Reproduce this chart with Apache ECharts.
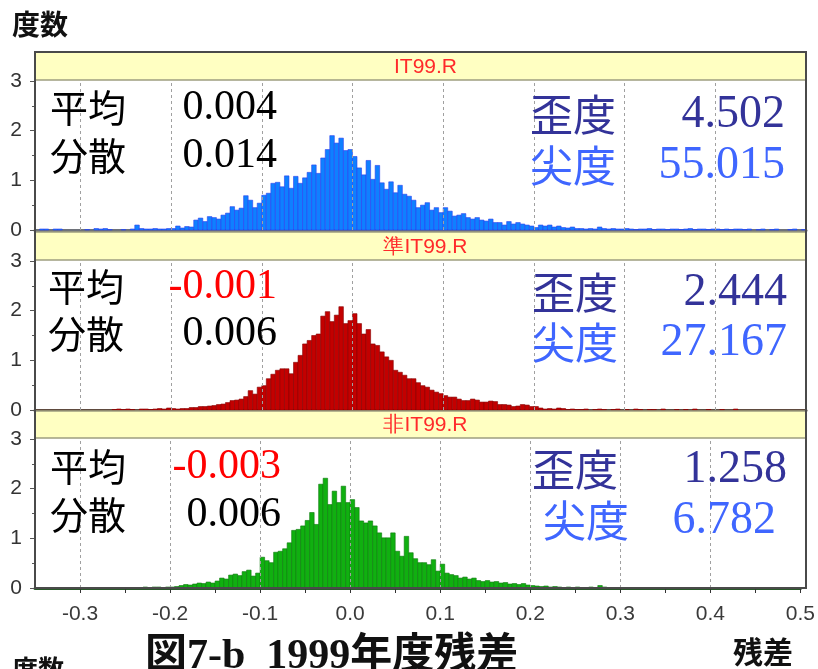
<!DOCTYPE html>
<html>
<head>
<meta charset="utf-8">
<script src="https://cdn.jsdelivr.net/npm/echarts@6/dist/echarts.min.js"></script>
<style>
  html, body { margin: 0; padding: 0; background: #ffffff; }
  #chart { width: 818px; height: 669px; }
</style>
</head>
<body>
<div id="chart"></div>
<script>
// Histogram bins: left edge of the first bin and common bin width (residual units)
const BIN_START = -0.35;
const BIN_WIDTH = 0.005;

const panelNames = ['IT99.R', '準IT99.R', '非IT99.R'];

// Frequency (density) per bin, 170 bins from -0.35 to 0.50
const countsIT = [
  0, 0.02, 0.02, 0, 0.02, 0.02, 0, 0, 0, 0,
  0, 0.01, 0, 0.03, 0.02, 0.03, 0.01, 0, 0, 0.01,
  0, 0.02, 0.10, 0.03, 0.02, 0.02, 0.03, 0.02, 0.02, 0.03,
  0.03, 0.08, 0.04, 0.07, 0.06, 0.20, 0.24, 0.17, 0.27, 0.25,
  0.22, 0.30, 0.34, 0.47, 0.40, 0.44, 0.69, 0.60, 0.45, 0.54,
  0.70, 0.74, 0.94, 0.96, 0.87, 1.09, 0.84, 1.08, 0.94, 1.05,
  1.16, 1.31, 1.14, 1.45, 1.62, 1.90, 1.75, 1.85, 1.60, 1.62,
  1.48, 1.25, 1.11, 1.40, 1.02, 1.30, 0.95, 0.82, 0.97, 0.75,
  0.90, 0.72, 0.68, 0.60, 0.45, 0.50, 0.55, 0.40, 0.45, 0.35,
  0.45, 0.38, 0.28, 0.30, 0.33, 0.25, 0.22, 0.25, 0.20, 0.18,
  0.22, 0.15, 0.15, 0.10, 0.17, 0.12, 0.15, 0.12, 0.10, 0.08,
  0.05, 0.10, 0.08, 0.10, 0.06, 0.08, 0.05, 0.04, 0.06, 0.03,
  0.03, 0.02, 0.03, 0.02, 0.06, 0.03, 0.02, 0.03, 0.02, 0.02,
  0.03, 0.02, 0.01, 0.02, 0.02, 0.03, 0.01, 0.02, 0.02, 0.01,
  0.02, 0.02, 0.01, 0.02, 0.03, 0.01, 0.02, 0.02, 0.01, 0.02,
  0.02, 0.01, 0.02, 0.01, 0.02, 0.02, 0.01, 0.02, 0, 0.01,
  0.02, 0, 0.01, 0.02, 0, 0, 0.01, 0.02, 0, 0.01
];
const countsSemi = [
  0, 0, 0, 0, 0, 0, 0, 0, 0, 0,
  0, 0, 0, 0, 0, 0, 0, 0.01, 0.02, 0.01,
  0.02, 0.01, 0, 0.02, 0.02, 0.01, 0.02, 0.03, 0.02, 0.04,
  0.03, 0.02, 0.03, 0.03, 0.05, 0.05, 0.07, 0.07, 0.08, 0.09,
  0.11, 0.12, 0.15, 0.19, 0.20, 0.22, 0.27, 0.39, 0.32, 0.46,
  0.49, 0.63, 0.72, 0.80, 0.83, 0.83, 0.73, 0.96, 1.10, 1.33,
  1.40, 1.50, 1.53, 1.89, 1.98, 1.78, 1.91, 2.08, 1.74, 1.80,
  1.94, 1.74, 1.53, 1.62, 1.33, 1.30, 1.17, 1.07, 1.00, 0.80,
  0.76, 0.70, 0.63, 0.63, 0.55, 0.49, 0.46, 0.40, 0.36, 0.33,
  0.29, 0.26, 0.26, 0.22, 0.19, 0.19, 0.22, 0.20, 0.16, 0.16,
  0.18, 0.17, 0.11, 0.11, 0.10, 0.07, 0.08, 0.11, 0.10, 0.07,
  0.07, 0.04, 0.02, 0.03, 0.02, 0.04, 0.03, 0.01, 0.02, 0.01,
  0.01, 0.02, 0, 0.01, 0.02, 0.01, 0, 0.01, 0.02, 0,
  0.01, 0, 0.02, 0.01, 0, 0.01, 0.01, 0, 0.02, 0,
  0, 0.01, 0, 0.01, 0, 0.02, 0, 0, 0.01, 0,
  0, 0.01, 0, 0, 0.02, 0, 0, 0, 0, 0,
  0, 0, 0, 0, 0, 0, 0, 0, 0, 0
];
const countsNon = [
  0, 0, 0, 0, 0, 0, 0, 0, 0, 0,
  0, 0, 0, 0, 0, 0, 0, 0, 0, 0,
  0, 0, 0, 0.01, 0.02, 0.01, 0.02, 0.02, 0.01, 0.02,
  0.02, 0.03, 0.05, 0.07, 0.06, 0.08, 0.10, 0.09, 0.12, 0.10,
  0.14, 0.20, 0.18, 0.26, 0.28, 0.25, 0.33, 0.36, 0.24, 0.30,
  0.62, 0.55, 0.51, 0.72, 0.74, 0.79, 0.91, 1.16, 1.18, 1.25,
  1.36, 1.52, 1.28, 2.09, 2.21, 1.68, 1.95, 1.72, 2.05, 1.72,
  1.78, 1.62, 1.35, 1.31, 1.35, 1.25, 1.11, 1.01, 1.01, 1.11,
  0.74, 0.64, 1.04, 0.71, 0.59, 0.51, 0.51, 0.47, 0.57, 0.34,
  0.48, 0.30, 0.27, 0.25, 0.20, 0.22, 0.18, 0.20, 0.15, 0.13,
  0.15, 0.12, 0.13, 0.10, 0.11, 0.08, 0.09, 0.07, 0.09, 0.06,
  0.05, 0.04, 0.03, 0.04, 0.02, 0.03, 0.02, 0.01, 0.02, 0.01,
  0.02, 0.01, 0.01, 0.02, 0.01, 0.05, 0.02, 0.01, 0.01, 0.01,
  0, 0.01, 0, 0, 0, 0, 0, 0, 0, 0,
  0, 0, 0, 0, 0, 0, 0, 0, 0, 0,
  0, 0, 0, 0, 0, 0, 0, 0, 0, 0,
  0, 0, 0, 0, 0, 0, 0, 0, 0, 0
];

// Dashed reference lines across every panel
const gridLineValues = [-0.3, -0.2, -0.1, 0.0, 0.1, 0.2, 0.3, 0.4];

// Summary statistics printed in each panel
const meanLabels = ['0.004', '-0.001', '-0.003'];
const varianceLabels = ['0.014', '0.006', '0.006'];
const skewLabels = ['4.502', '2.444', '1.258'];
const kurtosisLabels = ['55.015', '27.167', '6.782'];

// ---- layout ----
const PLOT_LEFT = 35;
const PLOT_WIDTH = 771;
const PLOT_HEIGHT = 149;
const panelTops = [81, 261, 439];
const stripTops = [52, 232, 411];
const stripHeights = [28, 28, 27];

const palettes = [
  { fill: '#0f80ff', edge: '#2b3ff0', base: '#6e727a' },
  { fill: '#c30000', edge: '#870000', base: '#5e4a3e' },
  { fill: '#10b010', edge: '#0b780b', base: '#2a5a2a' }
];
const seriesCounts = [countsIT, countsSemi, countsNon];

// statistic text placement per panel (relative to the panel top)
const statLayout = [
  { labelX: 50, leftValX: 277, rightLabelX: 530, kurtLabelX: 530, skewValX: 785, kurtValX: 785, r1: 27, r2: 75, s1: 34, s2: 85 },
  { labelX: 48, leftValX: 277, rightLabelX: 532, kurtLabelX: 532, skewValX: 787, kurtValX: 787, r1: 26, r2: 73, s1: 32, s2: 82 },
  { labelX: 50, leftValX: 281, rightLabelX: 532, kurtLabelX: 543, skewValX: 787, kurtValX: 776, r1: 28, r2: 76, s1: 31, s2: 82 }
];

const CJK = "'Noto Sans CJK JP', 'Noto Sans CJK SC', sans-serif";
const SERIF = "'Liberation Serif', 'Times New Roman', serif";
const SANS = "'Liberation Sans', Arial, sans-serif";

function binRenderer(colors) {
  return function (params, api) {
    const left = api.value(0);
    const h = api.value(1);
    if (!h) return null;
    const topLeft = api.coord([left, h]);
    const bottomRight = api.coord([left + BIN_WIDTH, 0]);
    return {
      type: 'rect',
      shape: {
        x: topLeft[0],
        y: topLeft[1],
        width: bottomRight[0] - topLeft[0],
        height: bottomRight[1] - topLeft[1]
      },
      style: { fill: colors.fill, stroke: colors.edge, lineWidth: 0.6 }
    };
  };
}

// only the tenths get a label; the 0.05 ticks stay unlabeled
function tickText(v) {
  const t = Math.round(v * 10);
  if (Math.abs(v * 10 - t) > 1e-6) return '';
  return (t / 10).toFixed(1);
}

const grids = [], xAxes = [], yAxes = [], series = [], graphics = [];

for (let i = 0; i < 3; i++) {
  const pal = palettes[i];
  const isBottom = i === 2;
  grids.push({ left: PLOT_LEFT, top: panelTops[i], width: PLOT_WIDTH, height: PLOT_HEIGHT });
  xAxes.push({
    gridIndex: i, type: 'value', min: -0.35, max: 0.5, interval: 0.05,
    axisLine: { show: true, onZero: true, lineStyle: { color: pal.base, width: 3 } },
    axisTick: { show: isBottom, length: 5, lineStyle: { color: '#333' } },
    axisLabel: { show: isBottom, formatter: tickText, fontSize: 21, color: '#3a3a3a', margin: 16, fontFamily: SANS, showMinLabel: false },
    splitLine: { show: false }
  });
  yAxes.push({
    gridIndex: i, type: 'value', min: 0, max: 3, interval: 1,
    axisLine: { show: true, onZero: false, lineStyle: { color: '#4a4a4a', width: 2 } },
    axisTick: { show: true, length: 5, lineStyle: { color: '#555' } },
    minorTick: { show: true, splitNumber: 2, length: 3, lineStyle: { color: '#555' } },
    axisLabel: { fontSize: 21, color: '#333', margin: 13, fontFamily: SANS },
    splitLine: { show: false }
  });
  // dashed vertical guides, drawn beneath the bars
  series.push({
    type: 'line',
    xAxisIndex: i,
    yAxisIndex: i,
    data: [],
    z: 1,
    silent: true,
    markLine: {
      silent: true,
      symbol: 'none',
      label: { show: false },
      lineStyle: { color: '#a0a0a0', type: [3, 3], width: 1 },
      data: gridLineValues.map(v => ({ xAxis: v }))
    }
  });
  series.push({
    type: 'custom',
    name: panelNames[i],
    xAxisIndex: i,
    yAxisIndex: i,
    renderItem: binRenderer(pal),
    encode: { x: 0, y: 1 },
    data: seriesCounts[i].map((v, k) => [BIN_START + k * BIN_WIDTH, v]),
    z: 3
  });

  // panel header strip
  graphics.push({
    type: 'rect', z: 10,
    shape: { x: PLOT_LEFT, y: stripTops[i], width: PLOT_WIDTH, height: stripHeights[i] },
    style: { fill: '#ffffc2', stroke: '#9e9e80', lineWidth: 1.5 }
  });
  graphics.push({
    type: 'text', z: 11,
    x: PLOT_LEFT + PLOT_WIDTH / 2 + 5, y: stripTops[i] + stripHeights[i] / 2 + 1,
    style: { text: panelNames[i], fill: '#ff2a2a', font: '21px ' + SANS, align: 'center', verticalAlign: 'middle' }
  });

  // statistics
  const L = statLayout[i];
  const top = panelTops[i];
  const meanColor = meanLabels[i].startsWith('-') ? '#ff0000' : '#000000';
  graphics.push(
    { type: 'text', z: 12, x: L.labelX, y: top + L.r1, style: { text: '平均', fill: '#000', font: '38px ' + CJK, align: 'left', verticalAlign: 'middle' } },
    { type: 'text', z: 12, x: L.leftValX, y: top + L.r1, style: { text: meanLabels[i], fill: meanColor, font: '42px ' + SERIF, align: 'right', verticalAlign: 'middle' } },
    { type: 'text', z: 12, x: L.labelX, y: top + L.r2, style: { text: '分散', fill: '#000', font: '38px ' + CJK, align: 'left', verticalAlign: 'middle' } },
    { type: 'text', z: 12, x: L.leftValX, y: top + L.r2, style: { text: varianceLabels[i], fill: '#000', font: '42px ' + SERIF, align: 'right', verticalAlign: 'middle' } },
    { type: 'text', z: 12, x: L.rightLabelX, y: top + L.s1, style: { text: '歪度', fill: '#333399', font: '43px ' + CJK, align: 'left', verticalAlign: 'middle' } },
    { type: 'text', z: 12, x: L.skewValX, y: top + L.s1, style: { text: skewLabels[i], fill: '#333399', font: '46px ' + SERIF, align: 'right', verticalAlign: 'middle' } },
    { type: 'text', z: 12, x: L.kurtLabelX, y: top + L.s2, style: { text: '尖度', fill: '#3f66ff', font: '43px ' + CJK, align: 'left', verticalAlign: 'middle' } },
    { type: 'text', z: 12, x: L.kurtValX, y: top + L.s2, style: { text: kurtosisLabels[i], fill: '#3f66ff', font: '46px ' + SERIF, align: 'right', verticalAlign: 'middle' } }
  );
}

// outer frame around the three panels
graphics.push({
  type: 'rect', z: 20,
  shape: { x: PLOT_LEFT, y: stripTops[0], width: PLOT_WIDTH, height: panelTops[2] + PLOT_HEIGHT - stripTops[0] },
  style: { fill: 'none', stroke: '#4a4a4a', lineWidth: 2 }
});

// axis captions and figure title
graphics.push(
  { type: 'text', z: 12, x: 12, y: 24, style: { text: '度数', fill: '#111', font: 'bold 28px ' + CJK, align: 'left', verticalAlign: 'middle' } },
  { type: 'text', z: 12, x: 733, y: 637, style: { text: '残差', fill: '#111', font: 'bold 30px ' + CJK, align: 'left', verticalAlign: 'top' } },
  { type: 'text', z: 12, x: 145, y: 636, style: { text: '図7-b  1999年度残差', fill: '#111', font: "bold 42px 'Liberation Serif', 'Noto Sans CJK JP', serif", align: 'left', verticalAlign: 'top' } },
  { type: 'text', z: 12, x: 12, y: 656, style: { text: '度数', fill: '#111', font: 'bold 26px ' + CJK, align: 'left', verticalAlign: 'top' } }
);

const chart = echarts.init(document.getElementById('chart'));
chart.setOption({
  animation: false,
  backgroundColor: '#ffffff',
  grid: grids,
  xAxis: xAxes,
  yAxis: yAxes,
  series: series,
  graphic: { elements: graphics }
});
</script>
</body>
</html>
